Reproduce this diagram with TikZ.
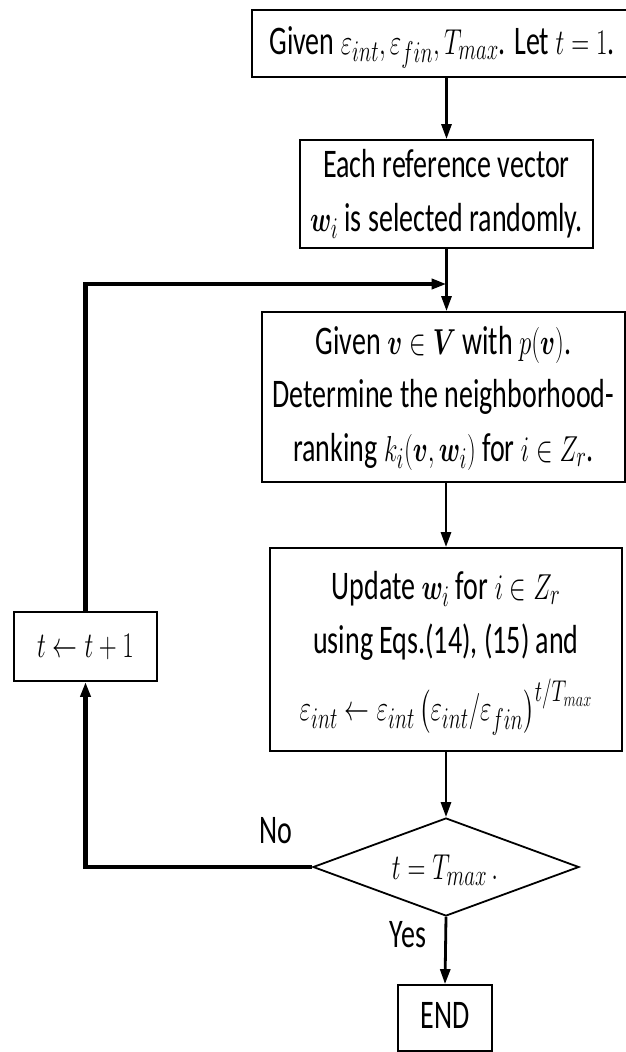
\documentclass[tikz,border=0pt]{standalone}
\usepackage{fontspec}
\setmainfont{Carlito}
\usepackage{amsmath,bm}
\usetikzlibrary{arrows.meta,shapes.geometric}
\newcommand{\vstretch}[1]{\scalebox{1}[1.45]{#1}}
\newcommand{\txt}[1]{\vstretch{\fontsize{28}{37}\selectfont\begin{tabular}{@{}c@{}}#1\end{tabular}}}
\begin{document}
\begin{tikzpicture}[x=1pt,y=-1pt,
  box/.style={draw, line width=1.8pt, inner sep=0pt, anchor=center},
  conn/.style={line width=2.8pt, -{Triangle[length=15pt,width=10pt]}},
  fb/.style={line width=4.2pt},
  lbl/.style={inner sep=0pt}]
\useasboundingbox (0,0) rectangle (626,1052);
\clip (0,0) rectangle (626,1052);
\node[box, minimum width=380pt, minimum height=67pt] (b1) at (442,43.5)
  {\txt{Given $\varepsilon_{int}, \varepsilon_{fin}, T_{max}$. Let $t = 1$.}};
\node[box, minimum width=293pt, minimum height=108pt] (b2) at (446.5,194)
  {\txt{Each reference vector\\ $\bm{w}_i$ is selected randomly.}};
\node[box, minimum width=363pt, minimum height=170pt] (b3) at (443.5,397)
  {\txt{Given $\bm{v}\in\bm{V}$ with $p(\bm{v})$.\\ Determine the neighborhood-\\ ranking $k_i(\bm{v},\bm{w}_i)$ for $i\in Z_r$.}};
\node[box, minimum width=352pt, minimum height=203pt] (b4) at (446,649.5)
  {\txt{Update $\bm{w}_i$ for $i\in Z_r$\\ using Eqs.(14), (15) and\\[7pt] $\varepsilon_{int}\leftarrow\varepsilon_{int}\left(\varepsilon_{int}/\varepsilon_{fin}\right)^{t/T_{max}}$}};
\node[box, diamond, minimum width=266pt, minimum height=98pt, shape aspect=2.7] (dia) at (446,867) {};
\node[lbl] (diat) at (445,869) {\txt{$t = T_{max}\,.$}};
\node[box, minimum width=143pt, minimum height=69pt] (tb) at (85.5,646.5) {\txt{$t\leftarrow t+1$}};
\node[box, minimum width=94pt, minimum height=66pt] (end) at (445,1018) {\txt{END}};
\node[lbl] (no) at (276,833) {\txt{No}};
\node[lbl] (yes) at (408,937) {\txt{Yes}};
\coordinate (m) at (446.5,284);
\draw[conn] (b2.north |- b1.south) -- (b2.north);
\draw[conn] (b2.south) -- (b2.south |- b3.north);
\draw[conn] (b4.north |- b3.south) -- (b4.north);
\draw[conn] (b4.south) -- (dia.north);
\draw[conn] (dia.south) -- (end.north);
\draw[fb, -{Triangle[length=15pt,width=10pt]}] (dia.west) -- (dia.west -| tb.south) -- (tb.south);
\draw[fb, -{Triangle[length=15pt,width=10pt]}] (tb.north) -- (tb.north |- m) -- (m);
\end{tikzpicture}
\end{document}
